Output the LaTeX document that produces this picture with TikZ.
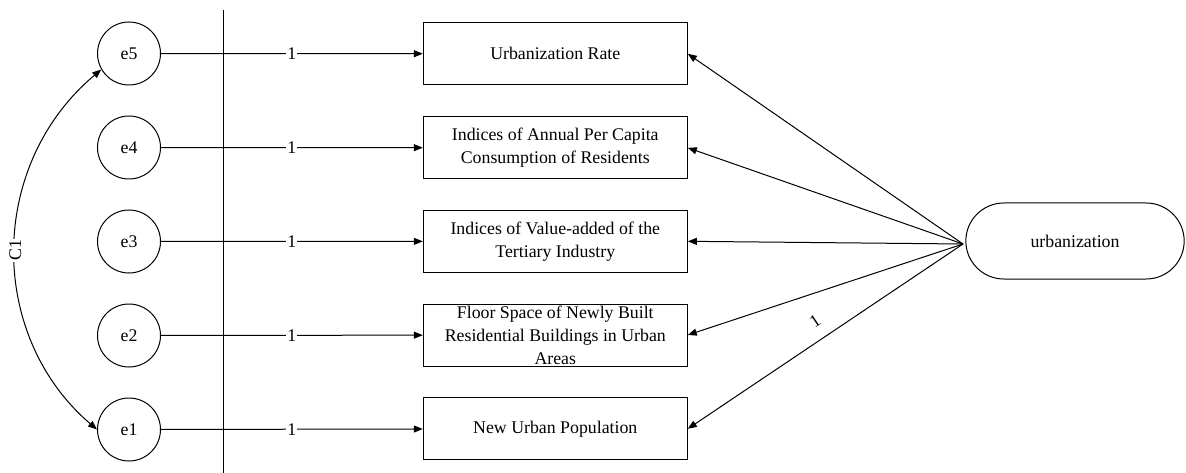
\documentclass[tikz,border=0pt]{standalone}
\usepackage{fontspec}
\setmainfont{Liberation Serif}
\usetikzlibrary{arrows.meta,shapes.misc}
\begin{document}
\begin{tikzpicture}[x=1pt,y=-1pt,
  every node/.style={font=\fontsize{17.8}{23}\selectfont},
  errc/.style={circle,draw,line width=1pt,minimum size=63pt,inner sep=0pt},
  obsbox/.style={rectangle,draw,line width=1pt,minimum width=264pt,minimum height=62pt,align=center,inner sep=0pt},
  latent/.style={rounded rectangle,draw,line width=1pt,minimum width=225pt,minimum height=76pt},
  arr/.style={-{Triangle[length=9pt,width=7pt]},line width=1pt},
  dblarr/.style={{Triangle[length=9pt,width=7pt]}-{Triangle[length=9pt,width=7pt]},line width=1pt},
  lab/.style={fill=white,inner sep=1pt}]
\useasboundingbox (0,0) rectangle (1186,473);
% error terms
\node[errc] (e5) at (129,53.5) {e5};
\node[errc] (e4) at (129,147.5) {e4};
\node[errc] (e3) at (129,241.5) {e3};
\node[errc] (e2) at (129,335.5) {e2};
\node[errc] (e1) at (129,429.5) {e1};
% observed variables
\node[obsbox] (b5) at (555.3,53.8) {Urbanization Rate};
\node[obsbox] (b4) at (555.3,147.8) {Indices of Annual Per Capita\\Consumption of Residents};
\node[obsbox] (b3) at (555.3,241.3) {Indices of Value-added of the\\Tertiary Industry};
\node[obsbox] (b2) at (555.3,335) {Floor Space of Newly Built\\Residential Buildings in Urban\\Areas};
\node[obsbox] (b1) at (555.3,428.8) {New Urban Population};
% latent variable
\node[latent] (u) at (1075,241) {urbanization};
\coordinate (uw) at (963,244);
% vertical line
\coordinate (vt) at (223.3,10);
\coordinate (vb) at (223.3,473);
\draw[line width=1pt] (vt) -- (vb);
% error arrows
\draw[arr] (e5) -- node[lab]{1} (b5);
\draw[arr] (e4) -- node[lab]{1} (b4);
\draw[arr] (e3) -- node[lab]{1} (b3);
\draw[arr] (e2) -- node[lab]{1} (b2);
\draw[arr] (e1) -- node[lab]{1} (b1);
% loadings
\draw[arr] (uw) -- (b5.east);
\draw[arr] (uw) -- (b4.east);
\draw[arr] (uw) -- (b3.east);
\draw[arr] (uw) -- (b2.east);
\draw[arr] (uw) -- node[sloped,above=12pt,inner sep=0pt]{1} (b1.east);
% covariance
\draw[dblarr] (e1.west) .. controls (-12.7,335.7) and (-12.7,165.3) .. node[pos=0.5,lab,rotate=90]{C1} (e5.210);
\end{tikzpicture}
\end{document}
